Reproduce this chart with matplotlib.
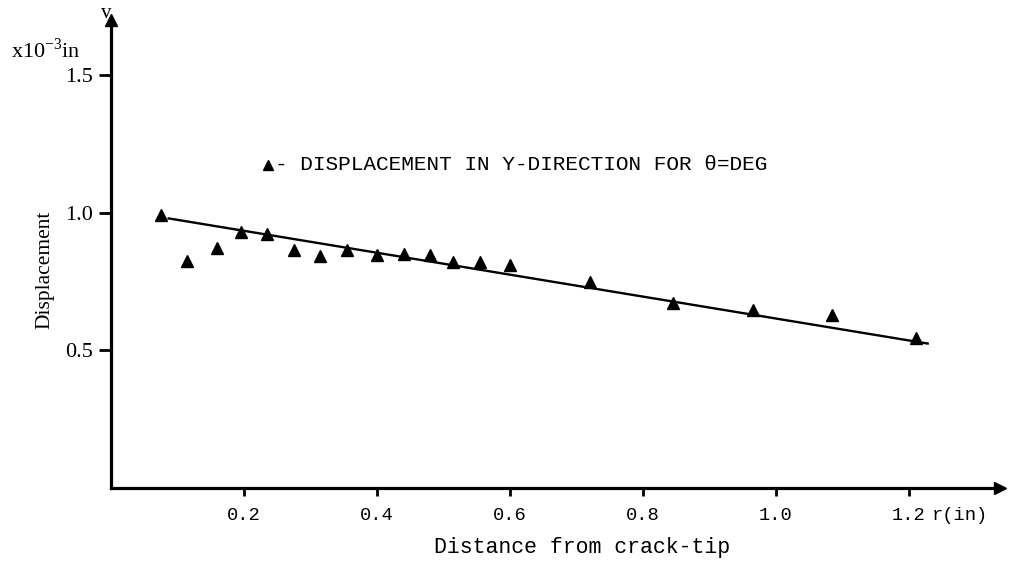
import matplotlib
matplotlib.use("Agg")
import matplotlib.pyplot as plt

# Data (r in inches, displacement in 1e-3 in)
r_values = [0.075, 0.115, 0.16, 0.195, 0.235, 0.275, 0.315, 0.355, 0.40, 0.44,
            0.48, 0.515, 0.555, 0.60, 0.72, 0.845, 0.965, 1.085, 1.21]
v_values = [0.99, 0.825, 0.873, 0.931, 0.924, 0.865, 0.844, 0.865, 0.847, 0.851,
            0.847, 0.822, 0.822, 0.811, 0.749, 0.673, 0.647, 0.629, 0.545]
fit_r = [0.085, 1.23]
fit_v = [0.98, 0.524]
x_ticks = [0.2, 0.4, 0.6, 0.8, 1.0, 1.2]
x_ticklabels = ["0.2", "0.4", "0.6", "0.8", "1.0", "1.2"]
y_ticks = [0.5, 1.0, 1.5]
y_ticklabels = ["0.5", "1.0", "1.5"]

SERIF = ["Liberation Serif", "DejaVu Serif"]
MONO = ["Liberation Mono", "DejaVu Sans Mono"]

fig = plt.figure(figsize=(10.16, 5.62), dpi=100)
W, H = 1016, 562
x0, y0, x1, y1 = 111, 488, 1000, 20
ax = fig.add_axes([x0 / W, (H - y0) / H, (x1 - x0) / W, (y0 - y1) / H])
ax.set_xlim(0, 1.337)
ax.set_ylim(0, 1.70)

ax.plot(fit_r, fit_v, color="black", lw=1.7, solid_capstyle="butt")
ax.plot(r_values, v_values, linestyle="none", marker="^", ms=9, color="black")

for s in ("top", "right"):
    ax.spines[s].set_visible(False)
for s in ("left", "bottom"):
    ax.spines[s].set_linewidth(2.3)

# axis arrows
ax.plot([0], [1], marker="^", ms=9, color="black", transform=ax.transAxes, clip_on=False)
ax.plot([1], [0], marker=">", ms=8, color="black", transform=ax.transAxes, clip_on=False)

ax.set_xticks(x_ticks)
ax.set_xticklabels(x_ticklabels, fontfamily=MONO, fontsize=13.5)
ax.set_yticks(y_ticks)
ax.set_yticklabels(y_ticklabels, fontfamily=SERIF, fontsize=16)
ax.tick_params(axis="x", length=6, width=2, direction="out", pad=8)
ax.tick_params(axis="y", length=9, width=2, direction="out", pad=4)

def axfrac(px, py):
    return (px - x0) / (x1 - x0), (y0 - py) / (y0 - y1)

ax.set_xlabel("Distance from crack-tip", fontfamily=MONO, fontsize=15.5, va="center")
ax.xaxis.set_label_coords(*axfrac(582, 548))
ax.set_ylabel("Displacement", fontfamily=SERIF, fontsize=15.5, va="center")
ax.yaxis.set_label_coords(*axfrac(45, 270))

ax.text(*axfrac(46, 50), "x10$^{\\mathregular{-3}}$in", transform=ax.transAxes,
        fontfamily=SERIF, fontsize=16, ha="center", va="center")
ax.text(*axfrac(106, 13), "v", transform=ax.transAxes,
        fontfamily=SERIF, fontsize=15, ha="center", va="center")
ax.text(*axfrac(932, 516), "r(in)", transform=ax.transAxes,
        fontfamily=MONO, fontsize=13.5, ha="left", va="center")

# legend key
ax.plot([axfrac(268, 165)[0]], [axfrac(268, 165)[1]], marker="^", ms=7, color="black",
        transform=ax.transAxes, clip_on=False)
ax.text(*axfrac(275, 164), "- DISPLACEMENT IN Y-DIRECTION FOR \u03b8=DEG",
        transform=ax.transAxes, fontfamily=MONO, fontsize=15.2, ha="left", va="center")

fig.savefig("out.png", dpi=100)
